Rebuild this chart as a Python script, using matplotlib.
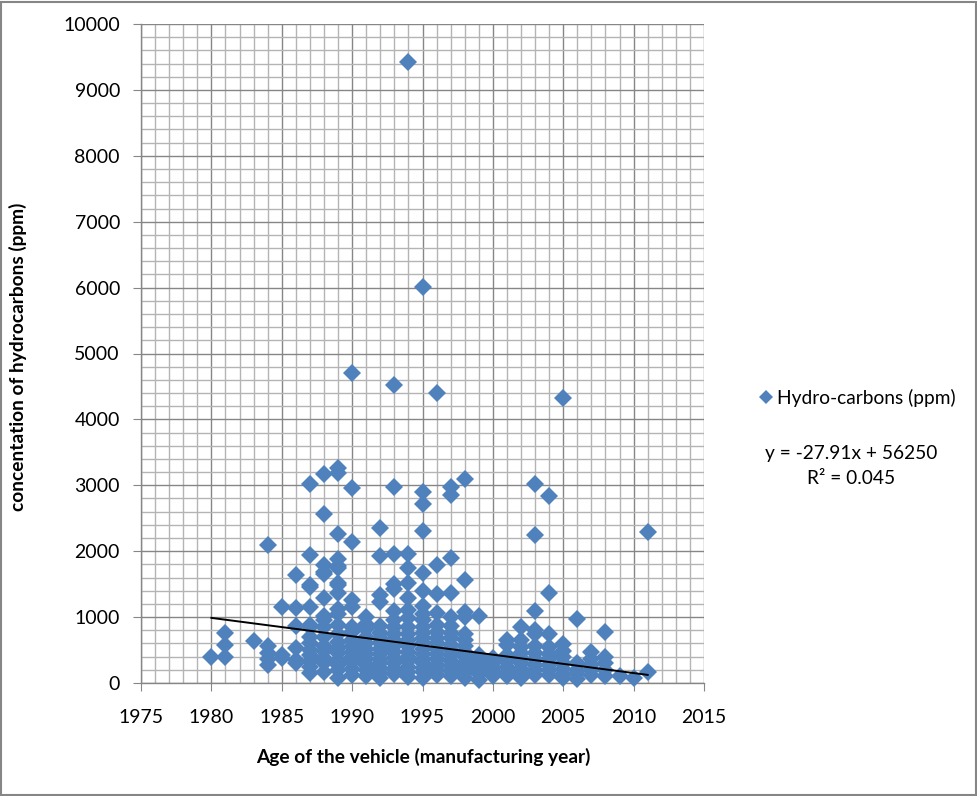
import matplotlib
matplotlib.use("Agg")
import matplotlib.pyplot as plt
from matplotlib.lines import Line2D
from matplotlib.patches import Rectangle
from matplotlib.ticker import MultipleLocator
import numpy as np

plt.rcParams['font.family'] = ['Lato', 'DejaVu Sans']

# ---- data: hydrocarbon concentration (ppm) per manufacturing year ----
hc_1980 = [390]
hc_1981 = [760, 570, 390]
hc_1983 = [630]
hc_1984 = [2100, 560, 460, 370, 270]
hc_1985 = [1150, 430, 380]
hc_1986 = [1640, 1140, 870, 530, 350, 300]
hc_1987 = [3020, 1940, 1490, 1460, 1160, 880, 850, 700, 600, 500, 420, 330, 250, 150]
hc_1988 = [3170, 2570, 1790, 1690, 1650, 1290, 1010, 950, 850, 700, 560, 480, 380, 300, 160]
hc_1989 = [3260, 3190, 2260, 1880, 1780, 1750, 1520, 1480, 1360, 1130, 1050, 880, 750,
           620, 530, 450, 350, 280, 190, 80]
hc_1990 = [4700, 2960, 2140, 1260, 1150, 850, 780, 650, 560, 470, 400, 320, 220, 120]
hc_1991 = [1000, 900, 820, 700, 600, 520, 440, 360, 280, 200, 110]
hc_1992 = [2350, 1930, 1340, 1230, 860, 760, 680, 600, 520, 440, 370, 300, 230, 150, 80]
hc_1993 = [4520, 2970, 1950, 1500, 1430, 1100, 950, 850, 750, 650, 560, 470, 380, 300, 220, 130]
hc_1994 = [9430, 1960, 1740, 1510, 1290, 1110, 980, 850, 750, 650, 560, 470, 400, 330, 250, 170, 90]
hc_1995 = [6010, 2900, 2710, 2300, 1670, 1390, 1170, 1050, 950, 850, 760, 680, 600, 520,
           440, 370, 300, 230, 160, 80]
hc_1996 = [4400, 1790, 1350, 1060, 880, 780, 680, 600, 520, 440, 360, 280, 200, 120]
hc_1997 = [2970, 2850, 1890, 1370, 1000, 870, 760, 680, 580, 500, 420, 340, 260, 180, 100]
hc_1998 = [3090, 1560, 1070, 1000, 750, 660, 560, 470, 390, 310, 230, 150, 80]
hc_1999 = [1010, 420, 350, 280, 200, 130, 40]
hc_2000 = [380, 300, 230, 160, 100]
hc_2001 = [660, 580, 420, 330, 250, 170, 100]
hc_2002 = [850, 650, 550, 460, 380, 300, 220, 150, 80]
hc_2003 = [3020, 2250, 1100, 800, 750, 560, 450, 360, 280, 200, 120]
hc_2004 = [2840, 1370, 740, 540, 440, 360, 280, 200, 120]
hc_2005 = [4330, 590, 480, 390, 300, 220, 140, 80]
hc_2006 = [970, 300, 200, 130, 60]
hc_2007 = [470, 370, 280, 200, 120]
hc_2008 = [780, 390, 300, 200, 100]
hc_2009 = [110]
hc_2010 = [80]
hc_2011 = [2290, 160]

hc_by_year = {
    1980: hc_1980, 1981: hc_1981, 1983: hc_1983, 1984: hc_1984, 1985: hc_1985,
    1986: hc_1986, 1987: hc_1987, 1988: hc_1988, 1989: hc_1989, 1990: hc_1990,
    1991: hc_1991, 1992: hc_1992, 1993: hc_1993, 1994: hc_1994, 1995: hc_1995,
    1996: hc_1996, 1997: hc_1997, 1998: hc_1998, 1999: hc_1999, 2000: hc_2000,
    2001: hc_2001, 2002: hc_2002, 2003: hc_2003, 2004: hc_2004, 2005: hc_2005,
    2006: hc_2006, 2007: hc_2007, 2008: hc_2008, 2009: hc_2009, 2010: hc_2010,
    2011: hc_2011,
}

trend_slope = -27.91
trend_intercept = 56250
trend_r2 = 0.045

series_label = "Hydro-carbons (ppm)"
x_label = "Age of the vehicle (manufacturing year)"
y_label = "concentation of hydrocarbons (ppm)"
x_ticks = [1975, 1980, 1985, 1990, 1995, 2000, 2005, 2010, 2015]
y_ticks = [0, 1000, 2000, 3000, 4000, 5000, 6000, 7000, 8000, 9000, 10000]

years = np.array([y for y, vals in hc_by_year.items() for _ in vals], dtype=float)
values = np.array([v for vals in hc_by_year.values() for v in vals], dtype=float)

# ---- figure ----
W, H = 978, 796
fig = plt.figure(figsize=(W / 100, H / 100), dpi=100)
fig.patch.set_facecolor("white")
ax = fig.add_axes([141 / W, 1 - 683 / H, (704 - 141) / W, (683 - 24) / H])

blue = "#4F81BD"
ax.plot(years, values, linestyle="none", marker="D", markersize=9.2,
        color=blue, markeredgewidth=0, zorder=3, clip_on=False)

tx = np.array([years.min(), years.max()])
ax.plot(tx, trend_slope * tx + trend_intercept, color="black", linewidth=1.4, zorder=4)

ax.set_xlim(x_ticks[0], x_ticks[-1])
ax.set_ylim(y_ticks[0], y_ticks[-1])
ax.set_xticks(x_ticks)
ax.set_yticks(y_ticks)
ax.xaxis.set_minor_locator(MultipleLocator(1))
ax.yaxis.set_minor_locator(MultipleLocator(200))
ax.grid(which="major", color="#868686", linewidth=1.0, zorder=0)
ax.grid(which="minor", color="#b4b4b4", linewidth=1.0, zorder=0)
ax.set_axisbelow(True)
for s in ["top", "right"]:
    ax.spines[s].set_visible(False)
for s in ["left", "bottom"]:
    ax.spines[s].set_color("#868686")
    ax.spines[s].set_linewidth(1.0)

ax.tick_params(which="major", direction="out", length=5.8, color="#868686",
               labelsize=14, labelcolor="#000000")
ax.tick_params(which="minor", length=0)
ax.tick_params(axis="x", which="major", pad=13.2)
ax.tick_params(axis="y", which="major", pad=9.4)

fig.text(423 / W, 1 - 757 / H, x_label, ha="center", va="center",
         fontsize=13.8, fontweight="bold")
fig.text(18 / W, 1 - 357 / H, y_label, ha="center", va="center",
         rotation=90, fontsize=13.8, fontweight="bold")

handle = Line2D([], [], linestyle="none", marker="D", markersize=7.5,
                color=blue, markeredgewidth=0)
fig.legend([handle], [series_label], loc="center left",
           bbox_to_anchor=(760 / W, 1 - 398 / H), frameon=False,
           fontsize=13.8, handlelength=0.6, handletextpad=0.3, borderpad=0,
           borderaxespad=0)

fig.text(851 / W, 1 - 453 / H, f"y = {trend_slope}x + {trend_intercept}",
         ha="center", va="center", fontsize=13.8)
fig.text(851 / W, 1 - 478 / H, f"R\u00b2 = {trend_r2}",
         ha="center", va="center", fontsize=13.8)

fig.add_artist(Rectangle((1.5 / W, 1.5 / H), (W - 3) / W, (H - 3) / H,
                         transform=fig.transFigure, fill=False,
                         edgecolor="#868686", linewidth=1.5))

fig.savefig("out.png", dpi=100)
